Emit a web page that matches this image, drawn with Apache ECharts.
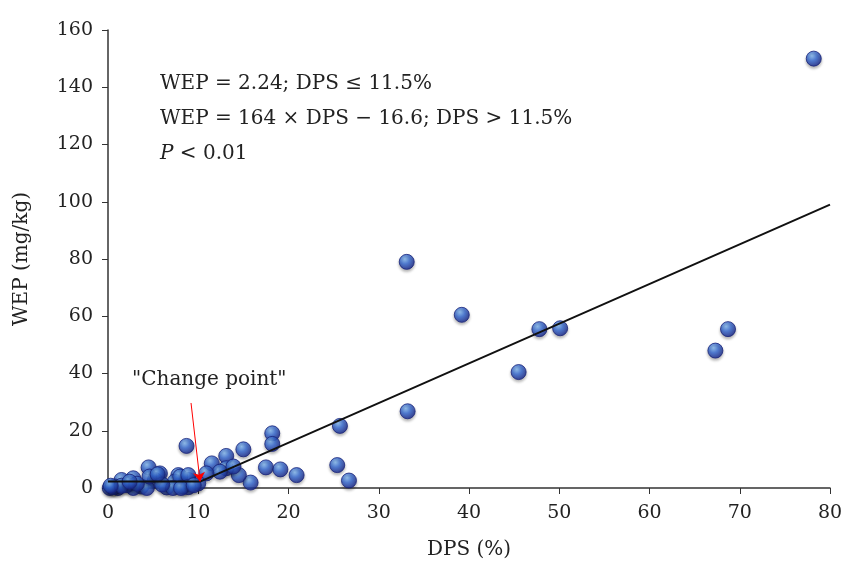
<!DOCTYPE html>
<html>
  <head>
    <meta charset="utf-8">
    <title>WEP vs DPS</title>
    <style>
        *{ padding: 0; margin: 0; }
        body{ background-color: #ffffff; }
        #chart{ width: 846px; height: 565px; }
    </style>
  </head>
  <body>
    <div id="chart"></div>
    <script type="text/javascript" src="https://cdn.jsdelivr.net/npm/echarts@6/dist/echarts.min.js"></script>
    <script type="text/javascript">
        // measured points (DPS %, WEP mg/kg)
        var dps = [78.2, 33.1, 39.2, 47.8, 50.1, 68.7, 67.3, 45.5, 33.2, 25.7, 26.7, 25.4,
                   18.2, 18.2, 15.0, 8.7, 17.5, 19.1, 20.9, 15.8, 14.5, 13.1, 13.1, 11.5,
                   12.4, 10.9, 13.9, 10.0, 8.9, 7.8, 8.3, 4.5, 5.75, 2.8, 1.5, 1.1, 0.2,
                   5.2, 6.5, 7.4, 8.0, 8.9, 8.9, 3.7, 2.8, 2.1, 4.3, 7.2, 8.1, 4.6, 0.8,
                   0.5, 1.5, 3.2, 6.0, 9.5, 0.3, 2.4, 5.5];
        var wep = [150, 79, 60.5, 55.5, 55.8, 55.5, 48, 40.5, 26.8, 21.7, 2.6, 8.0,
                   19.1, 15.4, 13.5, 14.7, 7.2, 6.5, 4.5, 1.9, 4.5, 11.2, 6.9, 8.6,
                   5.7, 5.1, 7.5, 1.6, 2.8, 4.5, 0.5, 7.2, 5.1, 3.4, 2.8, 0, 0,
                   2.8, 0.2, 2.2, 4.0, 4.5, 0.3, 0.5, 0, 1, 0, 0, 0, 4, 0.5,
                   0.3, 0.8, 1.5, 1.2, 1.0, 0.8, 2.2, 4.8];
        // fitted broken-stick line as drawn
        var fitX = [0, 10.2, 80];
        var fitY = [2.24, 2.24, 99];
        // "Change point" arrow, from label down to the break
        var arrowFrom = [9.2, 29.7];
        var arrowTo = [10.2, 2.3];
        var xTicks = { min: 0, max: 80, interval: 10 };
        var yTicks = { min: 0, max: 160, interval: 20 };
        var eqLines = ['WEP = 2.24; DPS \u2264 11.5%', 'WEP = 164 \u00d7 DPS \u2212 16.6; DPS > 11.5%'];

        var serif = 'DejaVu Serif';
        var points = [];
        for (var i = 0; i < dps.length; i++) { points.push([dps[i], wep[i]]); }
        var fit = [];
        for (var j = 0; j < fitX.length; j++) { fit.push([fitX[j], fitY[j]]); }

        var sphere = {
            type: 'radial', x: 0.38, y: 0.32, r: 0.7,
            colorStops: [
                { offset: 0, color: '#86bdf5' },
                { offset: 0.45, color: '#3468d2' },
                { offset: 1, color: '#142083' }
            ]
        };

        var myChart = echarts.init(document.getElementById('chart'));
        var option = {
            animation: false,
            grid: { left: 108, right: 16, top: 30, bottom: 77 },
            xAxis: {
                type: 'value', min: xTicks.min, max: xTicks.max, interval: xTicks.interval,
                name: 'DPS (%)', nameLocation: 'middle', nameGap: 52,
                nameTextStyle: { fontFamily: serif, fontSize: 20, color: '#222' },
                axisLine: { lineStyle: { color: '#333', width: 1.5 } },
                axisTick: { show: true, length: 6, lineStyle: { color: '#333' } },
                axisLabel: { fontFamily: serif, fontSize: 19, color: '#222', margin: 16 },
                splitLine: { show: false }
            },
            yAxis: {
                type: 'value', min: yTicks.min, max: yTicks.max, interval: yTicks.interval,
                name: 'WEP (mg/kg)', nameLocation: 'middle', nameGap: 76, nameRotate: 90,
                nameTextStyle: { fontFamily: serif, fontSize: 20, color: '#222' },
                axisLine: { show: true, lineStyle: { color: '#333', width: 1.5 } },
                axisTick: { show: true, length: 6, lineStyle: { color: '#333' } },
                axisLabel: { fontFamily: serif, fontSize: 19, color: '#222', margin: 15 },
                splitLine: { show: false }
            },
            graphic: [
                { type: 'text', left: 160, top: 74, style: { text: eqLines[0], font: '20px "DejaVu Serif"', fill: '#222' } },
                { type: 'text', left: 160, top: 109, style: { text: eqLines[1], font: '20px "DejaVu Serif"', fill: '#222' } },
                { type: 'text', left: 160, top: 144, style: { rich: { i: { fontFamily: serif, fontStyle: 'italic', fontSize: 20 }, n: { fontFamily: serif, fontSize: 20 } }, text: '{i|P}{n| < 0.01}', fill: '#222' } },
                { type: 'text', left: 132, top: 370, style: { text: '"Change point"', font: '20px "DejaVu Serif"', fill: '#222' } }
            ],
            series: [
                {
                    type: 'scatter', data: points, symbolSize: 15, z: 2,
                    itemStyle: {
                        color: sphere, borderColor: '#18237a', borderWidth: 1,
                        shadowBlur: 3, shadowOffsetY: 2, shadowColor: 'rgba(0,0,0,0.35)'
                    }
                },
                {
                    type: 'line', data: fit, symbol: 'none', z: 3,
                    lineStyle: { color: '#111', width: 2 },
                    markLine: {
                        silent: true, symbol: ['none', 'arrow'], symbolSize: 9,
                        label: { show: false },
                        lineStyle: { color: '#ff0000', width: 1, type: 'solid' },
                        data: [[{ coord: arrowFrom }, { coord: arrowTo }]]
                    }
                }
            ]
        };
        myChart.setOption(option);
    </script>
  </body>
</html>
